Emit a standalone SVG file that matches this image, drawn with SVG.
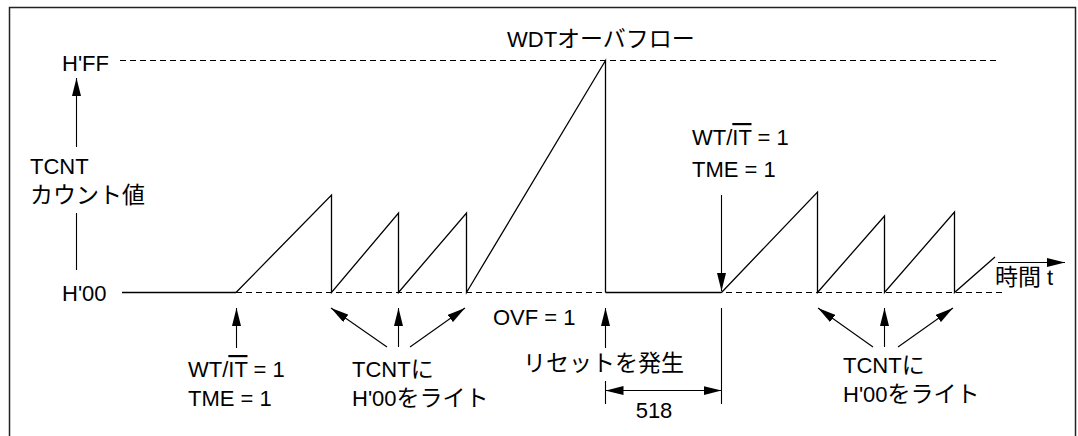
<svg xmlns="http://www.w3.org/2000/svg" width="1078" height="436" viewBox="0 0 1078 436">
<style>
.t{font-family:"Liberation Sans","Noto Sans CJK JP",sans-serif;font-size:22px;fill:#000}
.j{font-size:23px}
.ln{stroke:#000;stroke-width:1.3;fill:none}
.dash{stroke:#000;stroke-width:1.1;stroke-dasharray:6 4;fill:none}
.arr{stroke:#000;stroke-width:1.1;fill:none;marker-end:url(#ah)}
.ol{text-decoration:overline}
</style>
<defs>
<marker id="ah" viewBox="0 0 18 9" refX="18" refY="4.5" markerWidth="18" markerHeight="9" markerUnits="userSpaceOnUse" orient="auto-start-reverse">
<path d="M0,0 L18,4.5 L0,9 z" fill="#000"/>
</marker>
</defs>
<rect width="1078" height="436" fill="#fff"/>
<path id="frame" d="M9.5,436 V7.5 H1075.5 V436" fill="none" stroke="#222" stroke-width="1.5"/>

<g id="levels">
<line class="dash" x1="120" y1="60.5" x2="1000" y2="60.5"/>
<line class="dash" x1="236" y1="292.5" x2="1005" y2="292.5"/>
<line class="ln" x1="122" y1="292.5" x2="236" y2="292.5"/>
<line class="ln" x1="605.5" y1="292.5" x2="721.5" y2="292.5"/>
<text class="t" x="62" y="71">H'FF</text>
<text class="t" x="62" y="301">H'00</text>
</g>

<g id="waveform">
<polyline class="ln" points="236,292.5 331.5,195 331.5,292.5 398.5,213 398.5,292.5 466.5,213 466.5,292.5 605.5,60.5 605.5,292.5"/>
<polyline class="ln" points="721.5,292.5 817.5,192 817.5,292.5 884.5,216 884.5,292.5 954.5,212 954.5,292.5 995,257"/>
</g>

<g id="y-axis">
<text class="t" x="30" y="174">TCNT</text>
<text class="t" x="30" y="203"><tspan class="j">カウント値</tspan></text>
<line class="ln" x1="76.5" y1="213" x2="76.5" y2="270" style="stroke-width:1.1"/>
</g>

<g id="label-overflow">
<text class="t" x="507" y="47">WDT<tspan class="j" font-size="22">オーバフロー</tspan></text>
</g>

<g id="label-time">
<text class="t" x="995" y="285"><tspan class="j">時間</tspan> t</text>
</g>

<g id="label-start">
<text class="t" x="188" y="377">WT/<tspan class="ol">IT</tspan> = 1</text>
<text class="t" x="188" y="406">TME = 1</text>
</g>

<g id="label-write1">
<text class="t" x="352" y="377">TCNT<tspan class="j">に</tspan></text>
<text class="t" x="352" y="406">H'00<tspan class="j">をライト</tspan></text>
</g>

<g id="label-ovf">
<text class="t" x="493" y="325">OVF = 1</text>
</g>

<g id="label-reset">
<text class="t" x="523" y="371"><tspan class="j">リセットを発生</tspan></text>
</g>

<g id="label-restart">
<text class="t" x="692" y="145">WT/<tspan class="ol">IT</tspan> = 1</text>
<text class="t" x="692" y="177">TME = 1</text>
</g>

<g id="label-write2">
<text class="t" x="843" y="373">TCNT<tspan class="j">に</tspan></text>
<text class="t" x="843" y="402">H'00<tspan class="j">をライト</tspan></text>
</g>

<g id="dimension">
<line class="ln" x1="605.5" y1="381" x2="605.5" y2="404" style="stroke-width:1.1"/>
<line class="ln" x1="721.5" y1="308" x2="721.5" y2="404" style="stroke-width:1.1"/>
<text class="t" x="654" y="418" text-anchor="middle">518</text>
</g>

<g id="connectors">
<line class="arr" x1="76.5" y1="147" x2="76.5" y2="78"/>
<line class="arr" x1="236.5" y1="348" x2="236.5" y2="308"/>
<line class="arr" x1="387" y1="347" x2="331" y2="308"/>
<line class="arr" x1="398.5" y1="347" x2="398.5" y2="308"/>
<line class="arr" x1="410" y1="347" x2="465" y2="308"/>
<line class="arr" x1="605.5" y1="348" x2="605.5" y2="308"/>
<line class="arr" x1="721.5" y1="195" x2="721.5" y2="291"/>
<line class="arr" x1="873" y1="347" x2="818" y2="308"/>
<line class="arr" x1="884.5" y1="347" x2="884.5" y2="308"/>
<line class="arr" x1="898" y1="347" x2="953" y2="308"/>
<line class="arr" x1="998" y1="262.5" x2="1065" y2="262.5"/>
<line class="arr" x1="605.5" y1="390.5" x2="721.5" y2="390.5" style="marker-start:url(#ah)"/>
</g>
</svg>
